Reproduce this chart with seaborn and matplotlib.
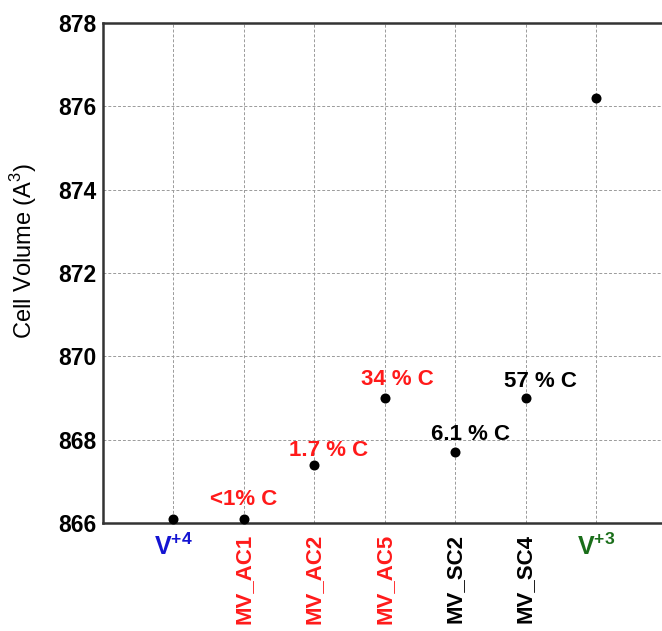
import matplotlib
matplotlib.use("Agg")
import matplotlib.pyplot as plt
import seaborn as sns
import pandas as pd

samples = [r"$\mathbf{V^{+4}}$", "MV_AC1", "MV_AC2", "MV_AC5", "MV_SC2", "MV_SC4",
           r"$\mathbf{V^{+3}}$"]
cell_volume = [866.1, 866.1, 867.4, 869.0, 867.7, 869.0, 876.2]
carbon_labels = ["", "<1% C", "1.7 % C", "34 % C", "6.1 % C", "57 % C", ""]
label_colors = ["#1414d2", "#ff1a1a", "#ff1a1a", "#ff1a1a", "black", "black", "#1a6e1a"]
note_colors = ["black", "#ff1a1a", "#ff1a1a", "#ff1a1a", "black", "black", "black"]
y_ticks = [866, 868, 870, 872, 874, 876, 878]

# label offsets (points) relative to each marker
note_dx = [0, 0, 10, 9, 11, 11, 0]
note_dy = [0, 10, 6, 9, 9, 8, 0]

sns.set_style("white")
plt.rcParams["font.family"] = ["Liberation Sans", "DejaVu Sans"]
plt.rcParams["mathtext.fontset"] = "custom"
plt.rcParams["mathtext.rm"] = "Liberation Sans"
plt.rcParams["mathtext.bf"] = "Liberation Sans:bold"
plt.rcParams["text.color"] = "black"
plt.rcParams["axes.labelcolor"] = "black"

df = pd.DataFrame({"pos": range(len(samples)), "volume": cell_volume})

fig = plt.figure(figsize=(6.62, 6.31), dpi=100)
ax = fig.add_axes([0.1556, 0.1712, 0.851, 0.7923])

sns.scatterplot(data=df, x="pos", y="volume", ax=ax, color="black",
                s=52, edgecolor="black", linewidth=0, zorder=3, clip_on=False)

for i, (txt, col) in enumerate(zip(carbon_labels, note_colors)):
    if txt:
        ax.annotate(txt, (i, cell_volume[i]), xytext=(note_dx[i], note_dy[i]),
                    textcoords="offset points", ha="center", va="baseline",
                    fontsize=16, fontweight="bold", color=col)

ax.set_xlim(-1, 7)
ax.set_ylim(866, 878)
ax.set_yticks(y_ticks)
ax.set_yticklabels([str(t) for t in y_ticks], fontsize=16.5, fontweight="bold",
                   color="black")
ax.set_xticks(range(len(samples)))
ax.set_xticklabels(samples, fontsize=16, fontweight="bold")
for i, lbl in enumerate(ax.get_xticklabels()):
    lbl.set_color(label_colors[i])
    if samples[i].startswith("MV"):
        lbl.set_rotation(90)
        lbl.set_va("top")
    else:
        lbl.set_fontsize(18)

ax.grid(True, linestyle=(0, (3, 2)), color="#9a9a9a", linewidth=0.7)
ax.tick_params(axis="both", direction="in", length=4, width=1.5, color="#222222")
ax.tick_params(axis="x", pad=8)
ax.tick_params(axis="y", pad=5)
for sp in ax.spines.values():
    sp.set_color("#333333")
    sp.set_linewidth(1.8)

ax.set_xlabel("")
ax.set_ylabel("Cell Volume (A$^3$)", fontsize=17)
ax.yaxis.set_label_coords(-0.113, 0.544)

fig.savefig("out.png", dpi=100)
